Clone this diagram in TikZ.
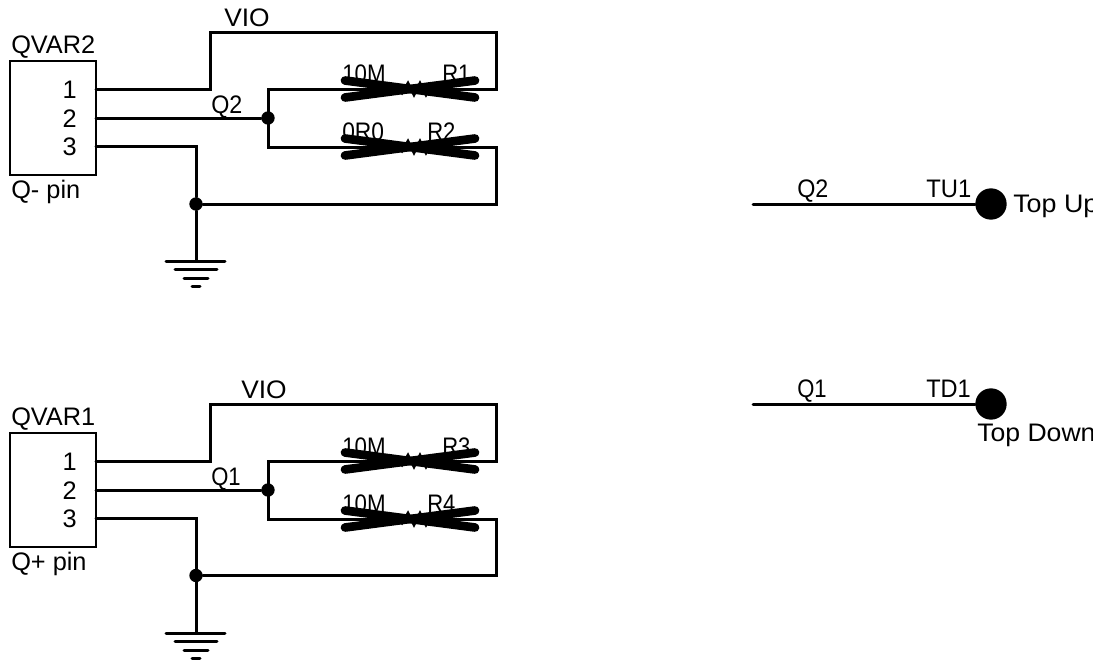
\documentclass[tikz,border=0pt]{standalone}
\usepackage{fontspec}
\setmainfont{Liberation Sans}
\newcommand{\narrowtext}[2]{\scalebox{#1}[1]{#2}}
\tikzset{
  wire/.style={draw=black,line width=2.25pt,line cap=round,line join=miter},
  thinbox/.style={draw=black,line width=1.5pt,fill=white,inner sep=0pt,minimum width=64.5pt,minimum height=85.5pt},
  dot/.style={circle,fill=black,inner sep=0pt,minimum size=10pt},
  pad/.style={circle,fill=black,inner sep=0pt,minimum size=23.5pt},
  txt/.style={anchor=base west,inner sep=0pt,font=\fontsize{19pt}{22pt}\selectfont},
  txtr/.style={anchor=base east,inner sep=0pt,font=\fontsize{19pt}{22pt}\selectfont},
  xbar/.style={draw=black,line width=6.5pt,line cap=round},
  zig/.style={draw=black,line width=2pt}
}
\begin{document}
\begin{tikzpicture}[x=0.75pt,y=-0.75pt]
\path[use as bounding box,fill=white] (0,0) rectangle (1093,661);
\clip (0,0) rectangle (1093,661);

% ---------- upper sheet
\node[thinbox] (c2) at (53,118) {};
\node[txt] (c2name) at (11,53) {QVAR2};
\node[txt] (c2val) at (11,198) {Q- pin};
\node[txtr] (c2p1) at (77,98) {1};
\node[txtr] (c2p2) at (77,127) {2};
\node[txtr] (c2p3) at (77,155) {3};
\coordinate (a1) at (96,89);
\coordinate (a2) at (96,118);
\coordinate (a3) at (96,146.5);
\node[dot] (aj) at (268,118) {};
\node[dot] (ag) at (196,204) {};
\coordinate (ag0) at (196,261);
\coordinate (at1) at (268,89);
\coordinate (at2) at (268,147);
\coordinate (ar1) at (496,89);
\coordinate (ar2) at (496,147);
\draw[wire] (a1) -- (210,89) -- (210,32) -- (496,32) -- (ar1) -- (at1) -- (at2) -- (ar2) -- (496,204) -- (ag);
\draw[wire] (a2) -- (aj);
\draw[wire] (a3) -- (196,146.5) -- (ag) -- (ag0);
\draw[wire] (166,261) -- (225,261);
\draw[wire] (175,269.5) -- (217,269.5);
\draw[wire] (184,278) -- (208,278);
\draw[wire] (192,286.5) -- (200,286.5);
\node[txt] at (224,26) {\narrowtext{1.04}{VIO}};
\node[txt] at (211,113) {\narrowtext{.92}{Q2}};
\node[txt] at (342,82) {\narrowtext{.88}{10M}};
\node[txt] at (442,82) {\narrowtext{.87}{R1}};
\node[txt] at (342,140) {\narrowtext{.9}{0R0}};
\node[txt] at (427,140) {\narrowtext{.87}{R2}};
\foreach \y in {89,147}{
  \draw[zig] (390,\y) -- (396,\y-4) -- (402,\y+4) -- (408,\y-6) -- (414,\y+6) -- (420,\y-6) -- (426,\y+6) -- (432,\y-4) -- (438,\y+4) -- (444,\y);
  \draw[xbar] (345,\y-8.5) -- (475,\y+8.5);
  \draw[xbar] (345,\y+8.5) -- (475,\y-8.5);
}

% ---------- lower sheet
\node[thinbox] (c1) at (53,490) {};
\node[txt] (c1name) at (11,425) {QVAR1};
\node[txt] (c1val) at (11,570) {Q+ pin};
\node[txtr] (c1p1) at (77,470) {1};
\node[txtr] (c1p2) at (77,499) {2};
\node[txtr] (c1p3) at (77,527) {3};
\coordinate (b1) at (96,461);
\coordinate (b2) at (96,490);
\coordinate (b3) at (96,518.5);
\node[dot] (bj) at (268,490) {};
\node[dot] (bg) at (196,575.5) {};
\coordinate (bg0) at (196,633);
\coordinate (bt1) at (268,461);
\coordinate (bt2) at (268,519);
\coordinate (br1) at (496,461);
\coordinate (br2) at (496,519);
\draw[wire] (b1) -- (210,461) -- (210,404) -- (496,404) -- (br1) -- (bt1) -- (bt2) -- (br2) -- (496,575.5) -- (bg);
\draw[wire] (b2) -- (bj);
\draw[wire] (b3) -- (196,518.5) -- (bg) -- (bg0);
\draw[wire] (166,633) -- (225,633);
\draw[wire] (175,641.5) -- (217,641.5);
\draw[wire] (184,650) -- (208,650);
\draw[wire] (192,658) -- (200,658);
\node[txt] at (241,398) {\narrowtext{1.04}{VIO}};
\node[txt] at (211,485) {\narrowtext{.87}{Q1}};
\node[txt] at (342,455) {\narrowtext{.88}{10M}};
\node[txt] at (442,455) {\narrowtext{.87}{R3}};
\node[txt] at (342,512) {\narrowtext{.88}{10M}};
\node[txt] at (427,512) {\narrowtext{.87}{R4}};
\foreach \y in {461,519}{
  \draw[zig] (390,\y) -- (396,\y-4) -- (402,\y+4) -- (408,\y-6) -- (414,\y+6) -- (420,\y-6) -- (426,\y+6) -- (432,\y-4) -- (438,\y+4) -- (444,\y);
  \draw[xbar] (345,\y-8.5) -- (475,\y+8.5);
  \draw[xbar] (345,\y+8.5) -- (475,\y-8.5);
}

% ---------- test points
\coordinate (tuw) at (753,204);
\node[pad] (tu) at (991,204) {};
\draw[wire] (tuw) -- (tu);
\node[txt] at (797,197) {\narrowtext{.92}{Q2}};
\node[txt] at (926,197) {\narrowtext{.94}{TU1}};
\node[txt] at (1013,212) {\narrowtext{1.06}{Top Up}};
\coordinate (tdw) at (753,404);
\node[pad] (td) at (991,404) {};
\draw[wire] (tdw) -- (td);
\node[txt] at (797,397) {\narrowtext{.87}{Q1}};
\node[txt] at (926,397) {\narrowtext{.93}{TD1}};
\node[txt] at (977,441) {\narrowtext{1.05}{Top Down}};
\end{tikzpicture}
\end{document}
